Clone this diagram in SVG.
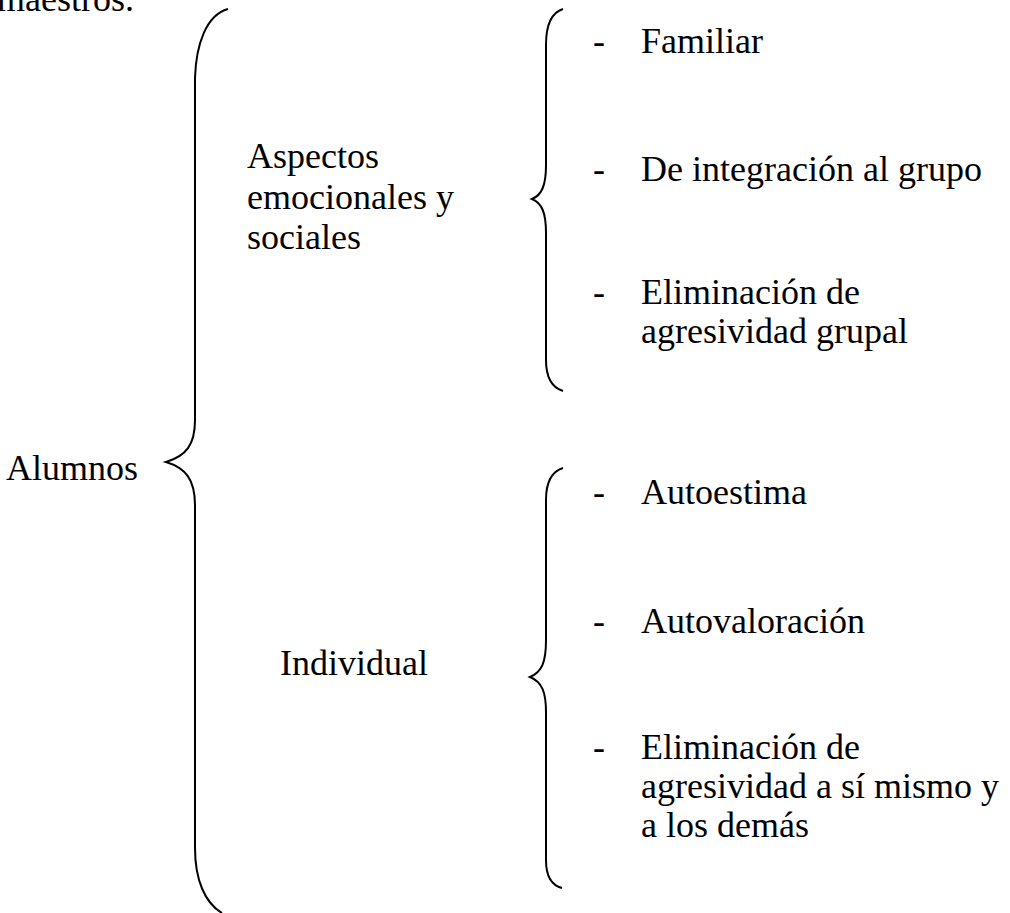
<svg xmlns="http://www.w3.org/2000/svg" width="1010" height="913" viewBox="0 0 1010 913">
<style>
text{font-family:"Liberation Serif","Times New Roman",serif;font-size:36px;fill:#000}
.br{fill:none;stroke:#000;stroke-width:2}
</style>
<rect width="1010" height="913" fill="#fff"/>
<text x="-3" y="11">maestros.</text>
<g id="connectors">
<path class="br" d="M228,9 C206,15 196,45 195,78 L195,420 C195,445 186,456 166,462 C186,468 195,480 195,505 L195,848 C195,880 205,903 222,913"/>
<path class="br" d="M563,9 C550,13 546,28 546,45 L546,165 C546,185 542,195 532,199 C542,203 546,213 546,233 L546,360 C546,375 550,387 563,391"/>
<path class="br" d="M563,468 C550,472 546,485 546,500 L546,640 C546,662 542,672 530,677 C542,682 546,692 546,712 L546,860 C546,875 550,885 562,888"/>
</g>
<g id="alumnos"><text x="138" y="480" text-anchor="end">Alumnos</text></g>
<g id="aspectos"><text x="247" y="168">Aspectos</text><text x="247" y="209">emocionales y</text><text x="247" y="249">sociales</text></g>
<g id="individual"><text x="280" y="675">Individual</text></g>
<g id="familiar"><text x="593" y="53">-</text><text x="641" y="53">Familiar</text></g>
<g id="integracion"><text x="593" y="181">-</text><text x="641" y="181">De integración al grupo</text></g>
<g id="elim-grupal"><text x="593" y="304">-</text><text x="641" y="304">Eliminación de</text><text x="641" y="343">agresividad grupal</text></g>
<g id="autoestima"><text x="593" y="504">-</text><text x="641" y="504">Autoestima</text></g>
<g id="autovaloracion"><text x="593" y="633">-</text><text x="641" y="633">Autovaloración</text></g>
<g id="elim-individual"><text x="593" y="759">-</text><text x="641" y="759">Eliminación de</text><text x="641" y="798">agresividad a sí mismo y</text><text x="641" y="837">a los demás</text></g>
</svg>
